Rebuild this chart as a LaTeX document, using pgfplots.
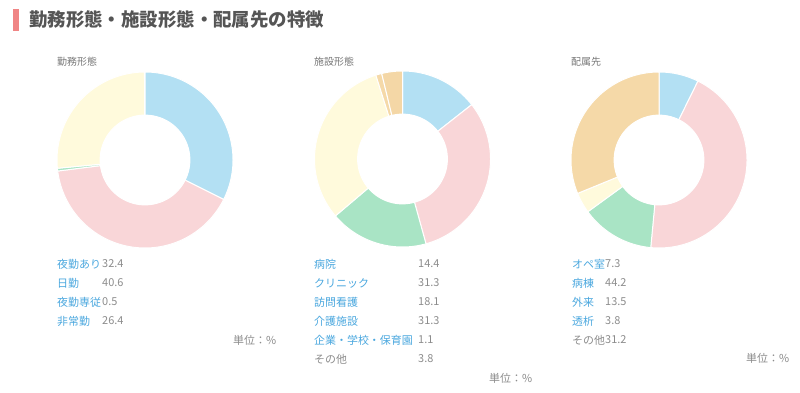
\documentclass[border=0pt]{standalone}
\usepackage{pgfplots}
\pgfplotsset{compat=1.18}
\usepackage{fontspec}
\setmainfont{Noto Sans CJK JP}
\definecolor{cblue}{HTML}{B3E0F3}
\definecolor{cpink}{HTML}{F9D6D8}
\definecolor{cgreen}{HTML}{A9E4C5}
\definecolor{cyellow}{HTML}{FFFADC}
\definecolor{ctan}{HTML}{F5D9A8}
\definecolor{ctanb}{HTML}{F4D7A6}
\definecolor{lblue}{HTML}{4AA7DE}
\definecolor{vgrey}{HTML}{8C8C8C}
\definecolor{tgrey}{HTML}{777777}
\definecolor{hgrey}{HTML}{555555}
\definecolor{hbar}{HTML}{F08585}
\newcommand\resetcum{\xdef\cum{0}}
\newcommand\slice[2]{%
 \pgfmathsetmacro\angA{90-3.6*\cum}%
 \pgfmathsetmacro\angB{90-3.6*(\cum+#1)}%
 \pgfmathsetmacro\newcum{\cum+#1}\xdef\cum{\newcum}%
 \edef\doslice{\noexpand\addplot[fill=#2, draw=white, line width=1pt, domain=\angB:\angA, samples=80, variable=\noexpand\t] ({cos(\noexpand\t)},{sin(\noexpand\t)}) -- (axis cs:0,0) -- cycle;}%
 \doslice}
\newcommand\hole{\addplot[fill=white, draw=white, line width=1pt, domain=0:360, samples=120, variable=\t] ({0.51*cos(\t)},{0.51*sin(\t)}) -- cycle;}
\pgfplotsset{donut/.style={hide axis, clip=false, x=88bp, y=88bp, xmin=-1, xmax=1, ymin=-1, ymax=1, anchor=center}}
\newcommand\lfont{\fontsize{11}{13}\selectfont}
\begin{document}
\begin{tikzpicture}[x=1bp,y=1bp]
\useasboundingbox (0,0) rectangle (800,392);
% header
\fill[hbar] (13,361) rectangle (19,383);
\node[anchor=west, inner sep=0, text=hgrey, font=\fontsize{18.5}{21}\selectfont\bfseries] at (29,372) {勤務形態・施設形態・配属先の特徴};
% chart 1
\begin{axis}[donut, at={(145bp,232bp)}]
\resetcum
\slice{32.4}{cblue}
\slice{40.6}{cpink}
\slice{0.5}{cgreen}
\slice{26.4}{cyellow}
\hole
\end{axis}
% chart 2
\begin{axis}[donut, at={(402.5bp,233bp)}]
\resetcum
\slice{14.4}{cblue}
\slice{31.3}{cpink}
\slice{18.1}{cgreen}
\slice{31.3}{cyellow}
\slice{1.1}{ctan}
\slice{3.8}{ctanb}
\hole
\end{axis}
% chart 3
\begin{axis}[donut, at={(659bp,232bp)}]
\resetcum
\slice{7.3}{cblue}
\slice{44.2}{cpink}
\slice{13.5}{cgreen}
\slice{3.8}{cyellow}
\slice{31.2}{ctan}
\hole
\end{axis}
% chart titles
\begin{scope}[every node/.style={anchor=west, inner sep=0, text=tgrey, font=\fontsize{10}{12}\selectfont}]
\node at (57,330) {勤務形態};
\node at (314,330) {施設形態};
\node at (571,330) {配属先};
\end{scope}
% legends
\begin{scope}[every node/.style={anchor=west, inner sep=0, font=\lfont}]
\node[text=lblue] at (57,128) {夜勤あり};  \node[text=vgrey] at (102,128) {32.4};
\node[text=lblue] at (57,109) {日勤};      \node[text=vgrey] at (102,109) {40.6};
\node[text=lblue] at (57,90) {夜勤専従};   \node[text=vgrey] at (102,90) {0.5};
\node[text=lblue] at (57,71) {非常勤};     \node[text=vgrey] at (102,71) {26.4};
\node[text=vgrey] at (233,52) {単位：\%};
\node[text=lblue] at (314,128) {病院};      \node[text=vgrey] at (418,128) {14.4};
\node[text=lblue] at (314,109) {クリニック}; \node[text=vgrey] at (418,109) {31.3};
\node[text=lblue] at (314,90) {訪問看護};    \node[text=vgrey] at (418,90) {18.1};
\node[text=lblue] at (314,71) {介護施設};    \node[text=vgrey] at (418,71) {31.3};
\node[text=lblue] at (314,52) {企業・学校・保育園}; \node[text=vgrey] at (418,52) {1.1};
\node[text=vgrey] at (314,33) {その他};      \node[text=vgrey] at (418,33) {3.8};
\node[text=vgrey] at (489,14) {単位：\%};
\node[text=lblue] at (572,128) {オペ室};  \node[text=vgrey] at (605,128) {7.3};
\node[text=lblue] at (572,109) {病棟};    \node[text=vgrey] at (605,109) {44.2};
\node[text=lblue] at (572,90) {外来};     \node[text=vgrey] at (605,90) {13.5};
\node[text=lblue] at (572,71) {透析};     \node[text=vgrey] at (605,71) {3.8};
\node[text=vgrey] at (572,52) {その他};   \node[text=vgrey] at (605,52) {31.2};
\node[text=vgrey] at (746,34) {単位：\%};
\end{scope}
\end{tikzpicture}
\end{document}
